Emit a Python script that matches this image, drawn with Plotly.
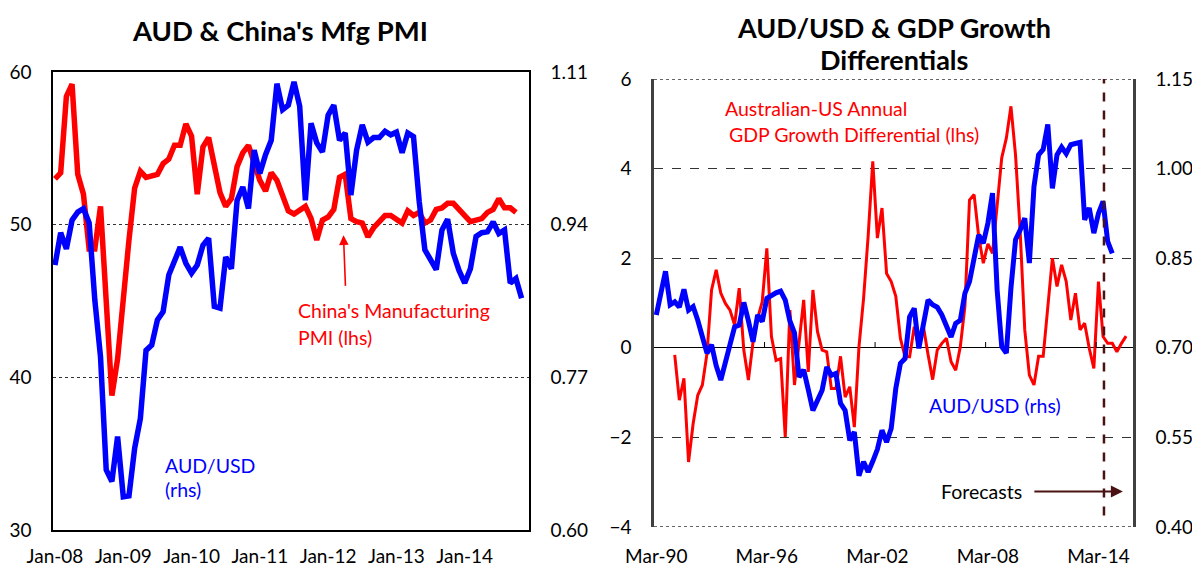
import plotly.graph_objects as go

# The page places the figure with an 8px body margin, so the figure is sized
# and positioned to compensate.
OFF = 8
W, H = 1200 - OFF, 566 - OFF
FONT = "Lato"

# ---------------- Left chart data (monthly, Jan-08 .. ) ----------------
left_ticklabels = ["Jan-08", "Jan-09", "Jan-10", "Jan-11", "Jan-12", "Jan-13", "Jan-14"]
n_months = 84  # Jan-08 .. Dec-14 category axis

china_pmi = [
    53.0, 53.4, 58.4, 59.2, 53.3, 52.0, 48.4, 48.4, 51.2, 44.6, 38.8, 41.2,
    45.3, 49.0, 52.4, 53.5, 53.1, 53.2, 53.3, 54.0, 54.3, 55.2, 55.2, 56.6,
    55.8, 52.0, 55.1, 55.7, 53.9, 52.1, 51.2, 51.7, 53.8, 54.7, 55.2, 53.9,
    52.9, 52.2, 53.4, 52.9, 52.0, 50.9, 50.7, 50.9, 51.2, 50.4, 49.0, 50.3,
    50.5, 51.0, 53.1, 53.3, 50.4, 50.2, 50.1, 49.2, 49.8, 50.2, 50.6, 50.6,
    50.4, 50.1, 50.9, 50.6, 50.8, 50.1, 50.3, 51.0, 51.1, 51.4, 51.4, 51.0,
    50.5, 50.2, 50.3, 50.4, 50.8, 51.0, 51.7, 51.1, 51.1, 50.8,
]

aud_monthly = [
    0.895, 0.931, 0.913, 0.945, 0.954, 0.958, 0.942, 0.856, 0.793, 0.667, 0.654, 0.704,
    0.637, 0.638, 0.691, 0.724, 0.800, 0.806, 0.834, 0.843, 0.884, 0.900, 0.915, 0.897,
    0.886, 0.895, 0.917, 0.925, 0.849, 0.847, 0.904, 0.891, 0.967, 0.982, 0.958, 1.023,
    0.997, 1.018, 1.034, 1.097, 1.068, 1.073, 1.099, 1.072, 0.967, 1.053, 1.031, 1.021,
    1.062, 1.073, 1.034, 1.042, 0.973, 1.023, 1.051, 1.032, 1.037, 1.037, 1.044, 1.040,
    1.043, 1.020, 1.042, 1.038, 0.966, 0.912, 0.901, 0.890, 0.934, 0.946, 0.908, 0.889,
    0.875, 0.891, 0.927, 0.931, 0.932, 0.943, 0.930, 0.934, 0.875, 0.880, 0.858,
]

# ---------------- Right chart data (quarterly, Mar-90 .. Dec-15) ----------------
right_ticklabels = ["Mar-90", "Mar-96", "Mar-02", "Mar-08", "Mar-14"]
n_quarters = 104

gdp_diff = [None, None, None, None,
    -0.16, -1.17, -0.68, -2.55, -1.69, -1.06, -0.83, -0.13, 1.29, 1.74, 1.22, 0.99,
    0.84, 0.51, 1.33, -0.05, -0.72, 0.13, 0.66, 1.03, 2.22, 0.25, -0.28, -0.24,
    -1.99, 0.84, -0.83, 0.17, 1.07, -0.54, 1.29, 0.36, -0.05, -0.09, -0.91, -0.91,
    -0.19, -1.10, -0.87, -1.77, 0.02, 1.10, 2.50, 4.16, 2.45, 3.12, 1.66, 1.48,
    1.15, 0.21, -0.20, -0.20, 0.47, 0.00, 0.47, -0.15, -0.71, -0.05, 0.10, 0.21,
    -0.31, -0.50, 0.02, 0.92, 3.30, 3.42, 2.48, 1.89, 2.32, 2.11, 3.23, 4.24,
    4.68, 5.39, 4.30, 2.60, 0.40, -0.61, -0.83, -0.19, -0.19, 0.90, 2.00, 1.37,
    1.85, 1.48, 0.62, 1.22, 0.40, 0.55, -0.01, -0.46, 1.48, 0.25, 0.10, 0.10,
    -0.09, 0.10, 0.26,
]

aud_quarterly = [
    0.755, 0.790, 0.828, 0.772, 0.777, 0.768, 0.798, 0.763, 0.769, 0.746,
    0.720, 0.691, 0.705, 0.670, 0.646, 0.675, 0.705, 0.735, 0.738, 0.776,
    0.745, 0.710, 0.755, 0.744, 0.783, 0.788, 0.792, 0.795, 0.780, 0.745,
    0.725, 0.651, 0.663, 0.630, 0.595, 0.612, 0.629, 0.668, 0.654, 0.657,
    0.607, 0.595, 0.545, 0.559, 0.486, 0.509, 0.492, 0.510, 0.530, 0.562,
    0.542, 0.565, 0.632, 0.674, 0.682, 0.752, 0.766, 0.699, 0.740, 0.780,
    0.772, 0.768, 0.755, 0.735, 0.718, 0.741, 0.746, 0.791, 0.811, 0.850,
    0.889, 0.875, 0.909, 0.959, 0.797, 0.702, 0.691, 0.800, 0.881, 0.897,
    0.917, 0.842, 0.970, 1.023, 1.032, 1.074, 0.967, 1.023, 1.036, 1.025,
    1.040, 1.042, 1.044, 0.914, 0.934, 0.892, 0.925, 0.945, 0.878, 0.858,
]

forecast_start = 97.2  # quarter position of forecast divider

RED = "#FF0000"
BLUE = "#0000FF"
BROWN = "#4A1212"


def fx(p):
    return (p - OFF) / W


def fy(p):
    return 1 - (p - OFF) / H


fig = go.Figure()

# Left chart
fig.add_trace(go.Scatter(x=list(range(len(china_pmi))), y=china_pmi, mode="lines",
                         line=dict(color=RED, width=5.5), xaxis="x", yaxis="y",
                         name="China's Manufacturing PMI (lhs)"))
fig.add_trace(go.Scatter(x=list(range(len(aud_monthly))), y=aud_monthly, mode="lines",
                         line=dict(color=BLUE, width=5.5), xaxis="x", yaxis="y2",
                         name="AUD/USD (rhs)"))
# Right chart
fig.add_trace(go.Scatter(x=list(range(len(gdp_diff))), y=gdp_diff, mode="lines",
                         line=dict(color=RED, width=3), xaxis="x2", yaxis="y3",
                         name="Australian-US Annual GDP Growth Differential (lhs)"))
fig.add_trace(go.Scatter(x=list(range(len(aud_quarterly))), y=aud_quarterly, mode="lines",
                         line=dict(color=BLUE, width=5), xaxis="x2", yaxis="y4",
                         name="AUD/USD (rhs)"))

tickfont = dict(family=FONT, size=19, color="black")

fig.update_layout(
    width=W, height=H,
    margin=dict(l=0, r=0, t=0, b=0),
    paper_bgcolor="white", plot_bgcolor="white",
    showlegend=False,
    font=dict(family=FONT, color="black"),
    xaxis=dict(domain=[fx(53), fx(529)], range=[-0.35, n_months - 0.7],
               tickvals=[12 * i for i in range(len(left_ticklabels))], ticktext=left_ticklabels,
               showgrid=False, zeroline=False, showline=True, mirror=True,
               linecolor="black", linewidth=1.5, ticks="", tickfont=tickfont,
               ticklabelstandoff=8, anchor="y", automargin=False),
    yaxis=dict(domain=[fy(530), fy(72)], range=[30, 60], tickvals=[30, 40, 50, 60],
               showgrid=True, gridcolor="#333", griddash="dot", gridwidth=1,
               zeroline=False, showline=True, linecolor="black", linewidth=1.5,
               ticks="", tickfont=tickfont, ticklabelstandoff=16, anchor="x",
               automargin=False),
    yaxis2=dict(overlaying="y", side="right", anchor="x", range=[0.60, 1.11],
                tickvals=[0.60, 0.77, 0.94, 1.11], tickformat=".2f",
                showgrid=False, zeroline=False, showline=True, linecolor="black",
                linewidth=1.5, ticks="", tickfont=tickfont, ticklabelstandoff=16,
                automargin=False),
    xaxis2=dict(domain=[fx(654), fx(1133)], range=[-0.5, n_quarters - 0.5],
                tickvals=[24 * i for i in range(len(right_ticklabels))], ticktext=right_ticklabels,
                showgrid=False, zeroline=False, showline=False, ticks="",
                tickfont=tickfont, ticklabelstandoff=16, anchor="y3", automargin=False),
    yaxis3=dict(domain=[fy(527), fy(79)], range=[-4, 6], tickvals=[-4, -2, 0, 2, 4, 6],
                showgrid=True, gridcolor="#333", griddash="dash", gridwidth=1,
                zeroline=True, zerolinecolor="black", zerolinewidth=1.3,
                showline=True, linecolor="#404040", linewidth=2.5,
                ticks="", tickfont=tickfont, ticklabelstandoff=16, anchor="x2",
                automargin=False),
    yaxis4=dict(overlaying="y3", side="right", anchor="x2", range=[0.40, 1.15],
                tickvals=[0.40, 0.55, 0.70, 0.85, 1.00, 1.15], tickformat=".2f",
                showgrid=False, zeroline=False, showline=True, linecolor="#404040",
                linewidth=2.5, ticks="", tickfont=tickfont, ticklabelstandoff=16,
                automargin=False),
)

shapes = []
# Dotted top and bottom borders of the right chart
for yb in (6, -4):
    shapes.append(dict(type="line", xref="x2 domain", yref="y3", x0=0, x1=1, y0=yb, y1=yb,
                       line=dict(color="#333", width=1.3, dash="dot"), layer="below"))
# Small tick marks on the zero line of the right chart (between categories)
for i in range(1, len(right_ticklabels)):
    xb = 24 * i - 0.5
    shapes.append(dict(type="line", xref="x2", yref="y3", x0=xb, x1=xb, y0=0, y1=0.13,
                       line=dict(color="black", width=1)))
# Forecast divider
shapes.append(dict(type="line", xref="x2", yref="y3", x0=forecast_start, x1=forecast_start,
                   y0=6.1, y1=-3.9, line=dict(color=BROWN, width=2.5, dash="dash")))
fig.update_layout(shapes=shapes)

ann = []


def text(xp, yp, s, color="black", size=19.5, xanchor="left", bold=False):
    ann.append(dict(x=fx(xp), y=fy(yp), xref="paper", yref="paper", text=f"<b>{s}</b>" if bold else s,
                    showarrow=False, xanchor=xanchor, yanchor="middle", borderpad=0,
                    font=dict(family=FONT, size=size, color=color)))


text(280, 30, "AUD &amp; China's Mfg PMI", size=27.5, xanchor="center", bold=True)
text(894, 27, "AUD/USD &amp; GDP Growth", size=27, xanchor="center", bold=True)
text(894, 59, "Differentials", size=27, xanchor="center", bold=True)

text(297, 310, "China's Manufacturing", color=RED)
text(297, 337, "PMI (lhs)", color=RED)
text(164, 465, "AUD/USD", color=BLUE)
text(164, 489, "(rhs)", color=BLUE)

text(724, 108, "Australian-US Annual", color=RED)
text(728, 135, "GDP Growth Differential (lhs)", color=RED)
text(928, 405, "AUD/USD (rhs)", color=BLUE)
text(940, 491, "Forecasts", color="black")

# Arrow to PMI line
ann.append(dict(x=50.7, y=49.3, xref="x", yref="y", text="", showarrow=True,
                ax=2, ay=52, arrowhead=2, arrowsize=1.2, arrowwidth=1.6, arrowcolor=RED))
# Forecast arrow
ann.append(dict(x=101.3, y=-3.21, xref="x2", yref="y3", text="", showarrow=True,
                ax=-90, ay=0, arrowhead=2, arrowsize=1.2, arrowwidth=2, arrowcolor=BROWN))

fig.update_layout(annotations=ann)

fig.write_html("out.html")
